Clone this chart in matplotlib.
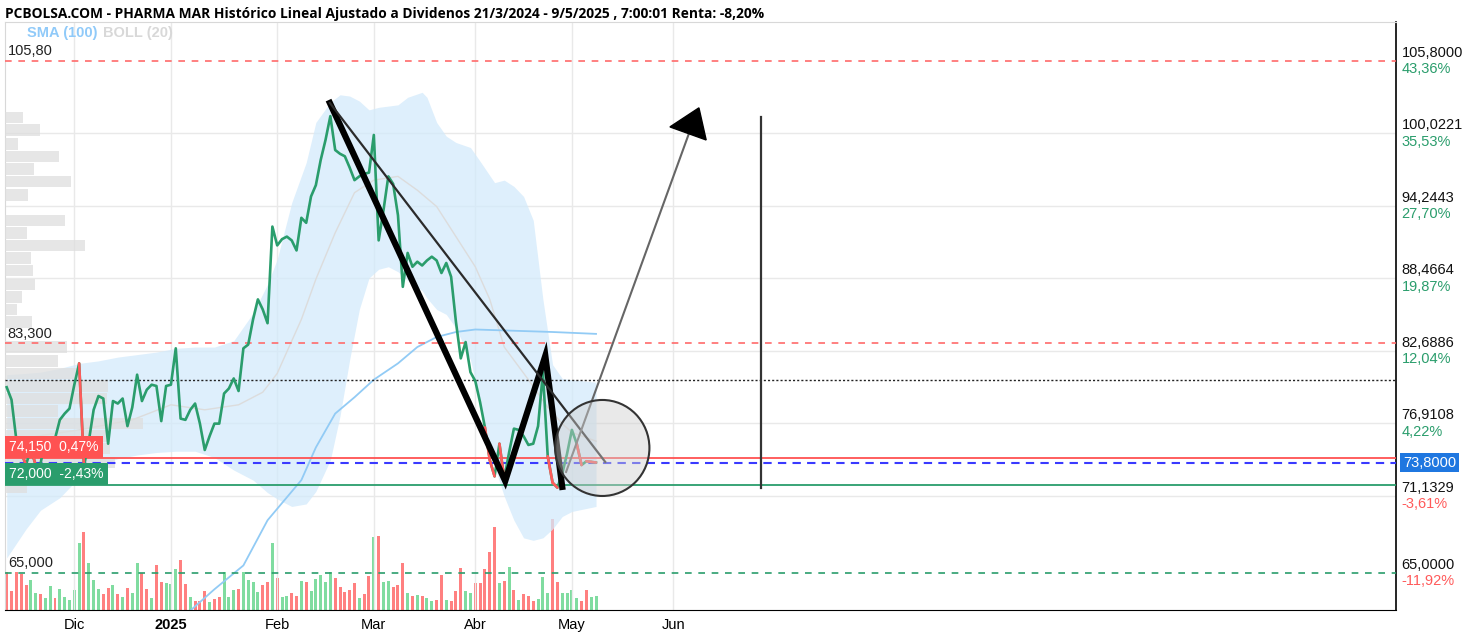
import numpy as np
import pandas as pd
import matplotlib
matplotlib.use('Agg')
import matplotlib.pyplot as plt
from matplotlib.patches import Ellipse, Polygon
from matplotlib.transforms import blended_transform_factory

plt.rcParams['font.family'] = ['Liberation Sans', 'DejaVu Sans']

# sesiones de la bolsa (sin festivos)
festivos = ['2024-12-25', '2024-12-26', '2025-01-01', '2025-04-18', '2025-04-21', '2025-05-01']
fechas = pd.bdate_range('2024-11-12', '2025-05-09')
fechas = fechas[~fechas.isin(pd.to_datetime(festivos))]

# cierres
cierre = [79.8, 78.8, 75.6, 74.6, 73.6, 74.9, 73.6, 73.7, 75.6, 75.8, 75.7, 77.2, 77.7, 78.1, 80.0,
          81.7, 73.5, 75.5, 78.0, 79.1, 78.9, 75.3, 78.7, 78.5, 78.9, 76.7, 78.2, 80.8, 78.7, 79.6,
          80.0, 79.9, 77.1, 79.9, 80.0, 82.9, 77.3, 77.2, 78.0, 78.5, 76.9, 74.8, 75.9, 76.9, 76.9,
          79.3, 79.7, 80.5, 79.5, 82.9, 83.2, 85.2, 86.8, 86.0, 84.9, 92.6, 91.1, 91.6, 91.8, 91.5,
          90.7, 93.3, 92.9, 95.0, 95.9, 97.9, 99.5, 101.4, 98.7, 98.4, 98.2, 97.3, 96.3, 96.6, 96.8,
          96.9, 99.9, 91.5, 93.9, 96.6, 96.0, 93.5, 87.8, 90.5, 89.4, 89.8, 89.5, 89.9, 90.2, 89.9,
          88.9, 89.7, 88.6, 85.0, 82.1, 83.4, 81.0, 80.3, 78.6, 76.6, 74.0, 72.7, 75.3, 72.5, 74.6,
          76.5, 76.4, 75.9, 75.2, 75.3, 76.7, 81.0, 74.3, 72.2, 71.8, 72.9, 74.5, 76.4, 75.3, 73.6,
          73.9, 73.85, 73.8]

# volumen (miles) y color de la vela
volumen = [110, 55, 110, 105, 73, 88, 50, 45, 35, 70, 35, 62, 38, 30, 57, 193, 225, 137, 88, 62,
           47, 65, 73, 47, 38, 65, 50, 137, 107, 60, 35, 130, 82, 77, 75, 118, 145, 75, 38, 27,
           27, 55, 23, 32, 37, 110, 38, 57, 62, 110, 88, 80, 52, 73, 80, 193, 92, 38, 42, 50,
           42, 85, 82, 55, 90, 102, 82, 110, 92, 68, 52, 57, 77, 35, 47, 98, 212, 215, 80, 83,
           68, 73, 137, 50, 40, 43, 42, 35, 25, 30, 102, 28, 25, 55, 122, 55, 50, 77, 77, 118,
           167, 242, 77, 85, 125, 58, 30, 47, 42, 27, 33, 95, 50, 265, 80, 50, 50, 57, 35, 27,
           58, 38, 40]
vela = ("rrrrrggrgg" "rgggggrggg" "rrgrgrggrr" "grrgggrrgr" "rrgrrgggrg" "gggrrgrggr"
        "rgrgggggrr" "rrrgrrgrgg" "rrrgrgrggr" "rgrrrggrrr" "rrgrgrgrrr" "gggrrggggr" "rgg")

# bandas de Bollinger (20) y medias
boll_idx = [0, 4, 7, 11, 15, 19, 23, 27, 31, 35, 39, 43, 47, 51, 54, 56, 59, 62, 64, 67, 69, 71, 73,
            75, 77, 79, 81, 83, 86, 87, 89, 91, 93, 96, 98, 101, 103, 105, 107, 109, 111, 113, 115,
            117, 122]
boll_sup = [80.8, 80.9, 81.0, 81.3, 81.7, 81.9, 82.2, 82.4, 82.6, 82.9, 83.0, 83.0, 83.5, 85.7, 88.0,
            90.0, 94.5, 97.7, 100.9, 102.5, 103.1, 103.0, 102.6, 101.9, 102.1, 102.2, 102.3, 102.9,
            103.3, 102.9, 100.9, 99.8, 99.3, 98.9, 97.8, 96.1, 96.3, 95.8, 95.0, 93.1, 86.8, 81.6,
            80.5, 80.4, 80.2]
boll_inf = [66.2, 68.5, 70.0, 71.0, 72.6, 73.6, 74.1, 74.4, 74.6, 74.7, 74.7, 74.2, 73.2, 72.4, 71.4,
            70.9, 70.3, 70.5, 71.5, 74.0, 77.5, 82.0, 86.0, 88.5, 89.2, 89.4, 89.0, 88.3, 87.5, 86.9,
            86.0, 85.6, 84.5, 82.0, 78.6, 73.5, 71.1, 69.2, 67.8, 67.6, 67.8, 68.5, 69.5, 69.9, 70.3]
sma20_idx = [0, 8, 15, 26, 34, 41, 48, 53, 56, 61, 64, 68, 72, 76, 81, 85, 89, 93, 97, 100, 103, 108,
             112, 115, 117, 122]
sma20 = [75.5, 76.0, 76.4, 77.2, 78.4, 78.0, 78.4, 79.4, 80.9, 85.2, 88.4, 92.1, 95.3, 96.3, 96.6,
         95.5, 94.2, 91.8, 89.4, 86.8, 83.0, 80.4, 78.2, 76.9, 76.2, 75.5]
sma100_idx = [38, 43, 49, 54, 61, 64, 68, 72, 76, 81, 85, 89, 93, 97, 105, 113, 122]
sma100 = [62.0, 63.7, 65.6, 69.2, 72.4, 75.0, 77.7, 79.0, 80.4, 81.7, 83.0, 83.8, 84.2, 84.4, 84.3,
          84.2, 84.05]

# perfil de volumen por precio
perfil_precio = [71.8, 72.8, 73.8, 74.9, 75.9, 76.9, 77.9, 78.9, 79.9, 80.9, 81.9, 83.0, 84.0, 85.0,
                 86.0, 87.0, 88.0, 89.1, 90.1, 91.1, 92.1, 93.1, 94.1, 95.1, 96.2, 97.2, 98.2, 99.2,
                 100.3, 101.3]
perfil_vol = [22, 92, 110, 105, 105, 138, 53, 102, 103, 73, 53, 62, 0, 27, 12, 17, 30, 28, 26, 80,
              22, 60, 0, 23, 66, 29, 54, 13, 35, 18]

# niveles
escala = [105.8, 100.0221, 94.2443, 88.4664, 82.6886, 76.9108, 71.1329, 65.0]
ultimo = 73.8
nivel_rojo = 74.15
nivel_verde = 72.0
nivel_punteado = 80.4

# dibujo a mano alzada (indice de sesion, precio)
trazo_x = [66.9, 103.2, 111.5, 115.0]
trazo_y = [102.45, 72.33, 82.3, 71.86]
fino_x = [66.9, 123.9]
fino_y = [102.45, 73.85]
flecha_x = [115.8, 141.5]
flecha_y = [73.05, 100.3]
punta = [(137.3, 100.54), (143.3, 102.06), (144.8, 99.5)]

verde = '#2a9d6c'
rojo = '#ff5a5a'

x = np.arange(len(cierre))
fig = plt.figure(figsize=(14.64, 6.38), dpi=100)
ax = fig.add_axes([5 / 1464, 28 / 638, 1391 / 1464, 588 / 638])
axv = ax.twinx()
ax.set_zorder(axv.get_zorder() + 1)
ax.patch.set_visible(False)

# volumen abajo
col_vol = ['#80dca0' if c == 'g' else '#ff8080' for c in vela]
axv.bar(x, volumen, width=0.62, color=col_vol)
axv.set_ylim(0, 1705)
axv.set_yticks([])
for s in axv.spines.values():
    s.set_visible(False)

# rejilla
meses = ['Dic', '2025', 'Feb', 'Mar', 'Abr', 'May', 'Jun']
pos_meses = [list(fechas).index(fechas[fechas >= d][0]) for d in
             ['2024-12-01', '2025-01-01', '2025-02-01', '2025-03-01', '2025-04-01', '2025-05-01']]
pos_meses.append(len(cierre) - 1 + len(pd.bdate_range('2025-05-10', '2025-06-02')))
for p in pos_meses:
    ax.axvline(p, color='#e9e9e9', lw=1, zorder=0)
for v in escala[1:-1]:
    ax.axhline(v, color='#e9e9e9', lw=1, zorder=0)

# bollinger
ax.fill_between(boll_idx, boll_inf, boll_sup, color='#d3eafb', alpha=0.75, lw=0, zorder=1)
ax.plot(sma20_idx, sma20, color='#dcdcdc', lw=1, zorder=2)
ax.plot(sma100_idx, sma100, color='#92cbf5', lw=1.3, zorder=2)

# perfil de volumen
tr = blended_transform_factory(ax.transAxes, ax.transData)
ancho = np.array(perfil_vol) / max(perfil_vol) * 0.099
ax.barh(perfil_precio, ancho, height=0.92, left=0, color='#dedede', alpha=0.75,
        transform=tr, zorder=3)

# niveles horizontales
ax.axhline(105.8, color='#ff6b6b', lw=1.2, ls=(0, (4, 4)), zorder=4)
ax.axhline(83.3, color='#ff6b6b', lw=1.2, ls=(0, (4, 4)), zorder=4)
ax.axhline(65.0, color=verde, lw=1.2, ls=(0, (4, 4)), zorder=4)
ax.axhline(nivel_punteado, color='#222222', lw=1, ls=(0, (1.5, 1.5)), zorder=4)
ax.axhline(nivel_rojo, color='#ff5252', lw=1.3, zorder=4)
ax.axhline(ultimo, color='#3a3aff', lw=1.5, ls=(0, (4, 3)), zorder=4)
ax.axhline(nivel_verde, color=verde, lw=1.3, zorder=4)

# linea de precio
ax.plot(x, cierre, color=verde, lw=1.9, zorder=5, solid_joinstyle='round')
for k in range(1, len(cierre)):
    if cierre[k] < nivel_rojo and cierre[k] < cierre[k - 1]:
        ax.plot([k - 1, k], [cierre[k - 1], cierre[k]], color=rojo, lw=1.9, zorder=5,
                solid_capstyle='round')

# dibujos
ax.plot(trazo_x, trazo_y, color='black', lw=4.5, zorder=6, solid_joinstyle='miter')
ax.plot(fino_x, fino_y, color='#2b2b2b', lw=1.6, zorder=6)
ax.plot(flecha_x, flecha_y, color='#666666', lw=1.5, zorder=6)
ax.add_patch(Polygon(punta, closed=True, color='black', zorder=6))
ax.plot([156.2, 156.2], [71.78, 101.34], color='#333333', lw=1.6, zorder=6)
ax.add_patch(Ellipse((123.3, 74.96), 19.5, 7.65, facecolor='#cfcfcf', alpha=0.45,
                     edgecolor='none', zorder=6))
ax.add_patch(Ellipse((123.3, 74.96), 19.5, 7.65, facecolor='none', edgecolor='#333333',
                     lw=1.5, zorder=6))

ax.set_xlim(-0.35, 287.6)
ax.set_ylim(62.05, 108.9)
ax.set_yticks([])
ax.set_xticks(pos_meses)
ax.set_xticklabels(meses, fontsize=10.5)
ax.get_xticklabels()[1].set_fontweight('bold')
ax.tick_params(axis='x', length=0, pad=6)
ax.spines['bottom'].set_color('black')
ax.spines['right'].set_color('black')
ax.spines['right'].set_linewidth(1.2)
ax.spines['left'].set_color('#d8d8d8')
ax.spines['top'].set_color('#d8d8d8')

# escala de la derecha
ty = ax.get_yaxis_transform()
for v in escala:
    pct = (v / ultimo - 1) * 100
    ax.annotate(f'{v:.4f}'.replace('.', ','), xy=(1, v), xycoords=ty, xytext=(4, 1),
                textcoords='offset points', va='bottom', ha='left', fontsize=10.5, color='#111111',
                annotation_clip=False)
    ax.annotate(f'{pct:.2f}%'.replace('.', ','), xy=(1, v), xycoords=ty, xytext=(4, -1),
                textcoords='offset points', va='top', ha='left', fontsize=10.5,
                color=verde if pct > 0 else rojo, annotation_clip=False)
ax.annotate(f'{ultimo:.4f}'.replace('.', ','), xy=(1, ultimo), xycoords=ty, xytext=(5, 0),
            textcoords='offset points', va='center', ha='left', fontsize=10.5, color='white',
            bbox=dict(boxstyle='square,pad=0.2', fc='#1f77e0', ec='none'), annotation_clip=False)

# etiquetas izquierda
for v, t in [(105.8, '105,80'), (83.3, '83,300'), (65.0, '65,000')]:
    ax.annotate(t, xy=(0, v), xycoords=ty, xytext=(2, 2), textcoords='offset points',
                va='bottom', ha='left', fontsize=10.5, color='#222222', zorder=8)
ax.annotate('74,150  0,47%', xy=(0, nivel_rojo), xycoords=ty, xytext=(3, 3),
            textcoords='offset points', va='bottom', ha='left', fontsize=10, color='white',
            bbox=dict(boxstyle='square,pad=0.3', fc='#ff5252', ec='none'), zorder=8)
ax.annotate('72,000  -2,43%', xy=(0, nivel_verde), xycoords=ty, xytext=(3, 3),
            textcoords='offset points', va='bottom', ha='left', fontsize=10, color='white',
            bbox=dict(boxstyle='square,pad=0.3', fc='#2a9d6c', ec='none'), zorder=8)

# titulo y leyenda
fig.text(5 / 1464, 1 - 14 / 638,
         'PCBOLSA.COM - PHARMA MAR Histórico Lineal Ajustado a Dividenos 21/3/2024 - 9/5/2025 , '
         '7:00:01 Renta: -8,20%', fontsize=9.9, fontweight='bold', family='Open Sans',
         va='center', ha='left')
fig.text(27 / 1464, 1 - 33 / 638, 'SMA (100)', fontsize=10.5, fontweight='bold', color='#90caf9',
         va='center')
fig.text(103 / 1464, 1 - 33 / 638, 'BOLL (20)', fontsize=10.5, fontweight='bold', color='#d8d8d8',
         va='center')

fig.savefig('out.png', dpi=100)
